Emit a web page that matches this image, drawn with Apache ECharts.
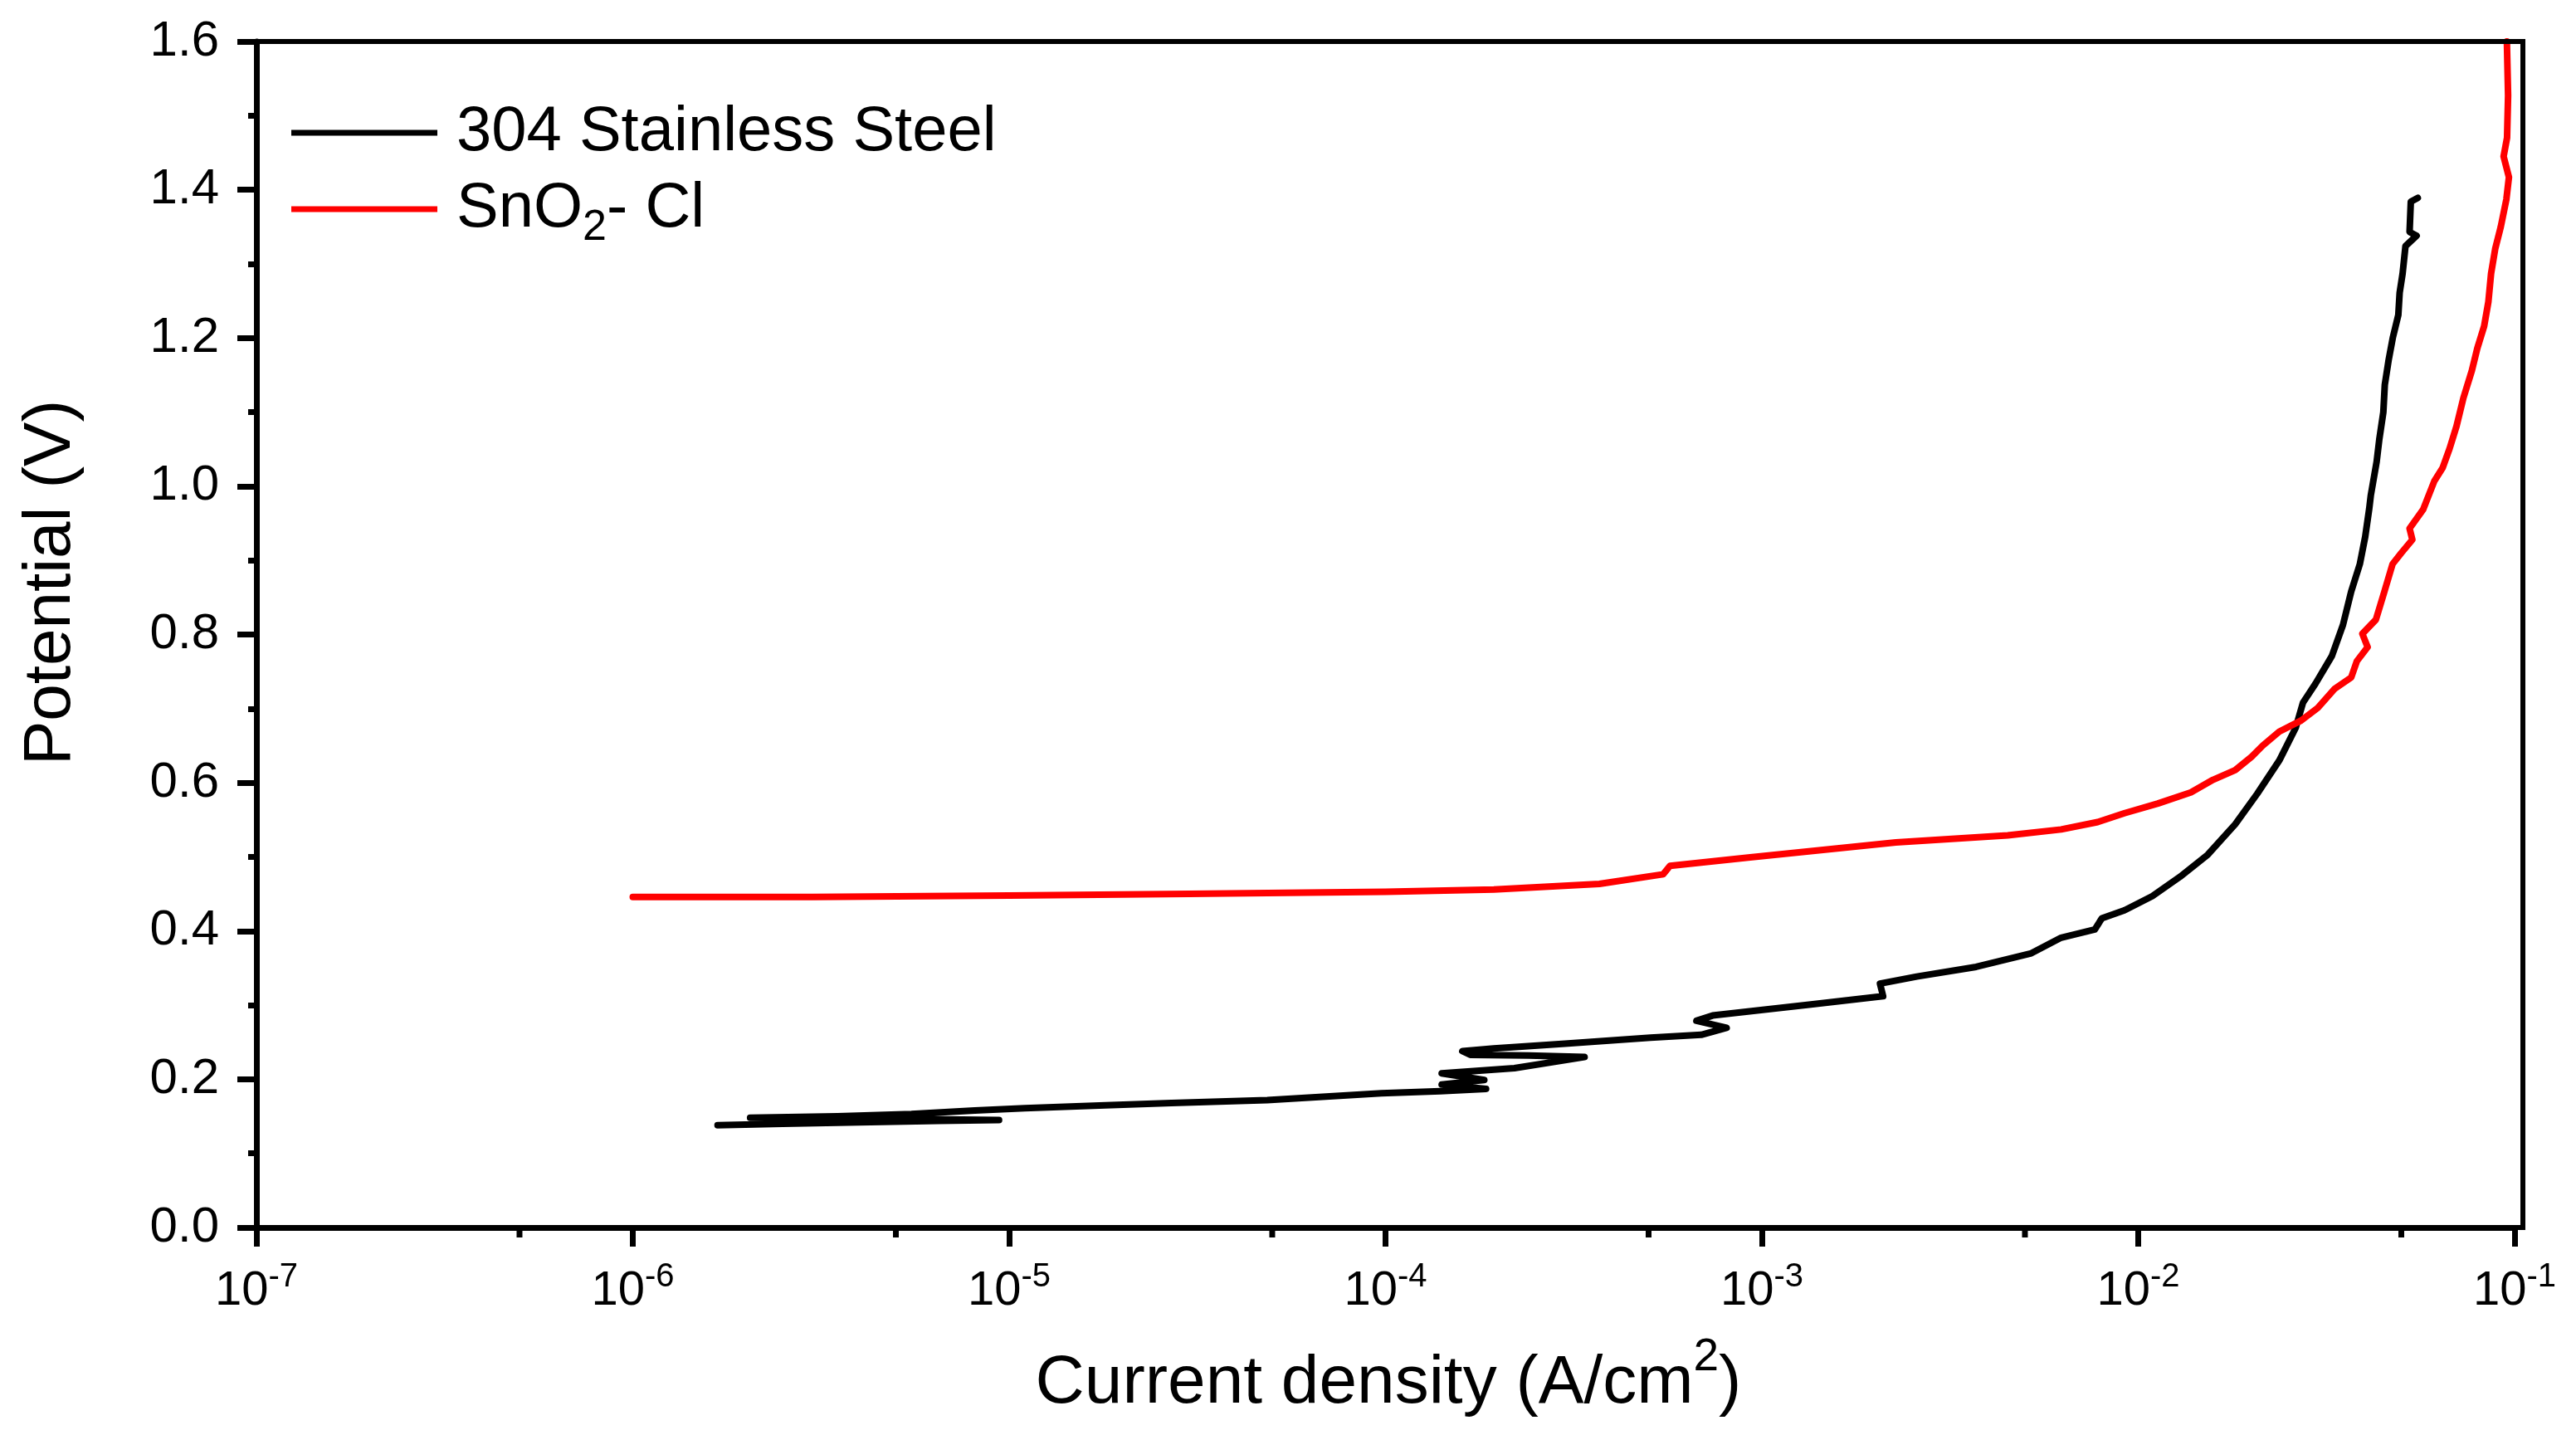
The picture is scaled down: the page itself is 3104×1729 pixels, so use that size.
<!DOCTYPE html>
<html><head><meta charset="utf-8">
<script src="https://cdn.jsdelivr.net/npm/echarts@6/dist/echarts.min.js"></script>
<style>html,body{margin:0;padding:0;background:#fff;}#chart{width:3104px;height:1729px;}</style>
</head><body><div id="chart"></div>
<script>
const FONT = '"Liberation Sans", Arial, Helvetica, sans-serif';
const seriesNames = ['304 Stainless Steel', 'SnO2- Cl'];
const xTitle = 'Current density (A/cm';
const yTitle = 'Potential (V)';

// 304 Stainless Steel (sweep order)
const ssCurrent = [1.68e-6, 2.5e-6, 4.0e-6, 6.5e-6, 9.4e-6, 6.0e-6, 3.0e-6, 2.05e-6, 3.5e-6, 5.5e-6,
  8.1e-6, 1.1e-5, 1.8e-5, 2.7e-5, 4.85e-5, 9.75e-5, 1.4e-4, 1.85e-4, 1.41e-4, 1.83e-4,
  1.41e-4, 2.2e-4, 3.38e-4, 2.4e-4, 1.68e-4, 1.6e-4, 1.94e-4, 3.0e-4, 5.06e-4, 6.9e-4,
  8.06e-4, 6.7e-4, 7.4e-4, 1.35e-3, 2.1e-3, 2.06e-3, 2.58e-3, 3.71e-3, 5.2e-3, 6.24e-3,
  7.67e-3, 8.0e-3, 9.2e-3, 1.09e-2, 1.29e-2, 1.53e-2, 1.81e-2, 2.07e-2, 2.37e-2, 2.62e-2,
  2.74e-2, 2.96e-2, 3.27e-2, 3.50e-2, 3.68e-2, 3.88e-2, 4.01e-2, 4.11e-2, 4.15e-2, 4.30e-2,
  4.37e-2, 4.48e-2, 4.52e-2, 4.63e-2, 4.75e-2, 4.91e-2, 4.95e-2, 5.04e-2, 5.13e-2, 5.49e-2,
  5.26e-2, 5.30e-2, 5.53e-2];
const ssPotential = [0.138, 0.140, 0.142, 0.144, 0.145, 0.146, 0.147, 0.148, 0.150, 0.153,
  0.158, 0.161, 0.165, 0.168, 0.172, 0.181, 0.184, 0.187, 0.193, 0.199,
  0.208, 0.215, 0.230, 0.232, 0.233, 0.238, 0.2415, 0.248, 0.256, 0.260,
  0.2695, 0.279, 0.286, 0.301, 0.312, 0.329, 0.3385, 0.3516, 0.370, 0.391,
  0.402, 0.417, 0.428, 0.447, 0.473, 0.503, 0.544, 0.585, 0.630, 0.674,
  0.708, 0.734, 0.771, 0.813, 0.858, 0.895, 0.932, 0.970, 0.988, 1.033,
  1.063, 1.100, 1.137, 1.171, 1.201, 1.231, 1.261, 1.287, 1.324, 1.338,
  1.343, 1.384, 1.389];

// SnO2- Cl
const snCurrent = [1.0e-6, 3e-6, 1e-5, 3e-5, 1e-4, 1.94e-4, 3.7e-4, 5.47e-4, 5.7e-4, 9.2e-4,
  2.27e-3, 4.5e-3, 6.24e-3, 7.8e-3, 9.2e-3, 1.128e-2, 1.38e-2, 1.58e-2, 1.81e-2, 2.00e-2, 2.14e-2, 2.37e-2,
  2.71e-2, 3.00e-2, 3.33e-2, 3.68e-2, 3.81e-2, 4.07e-2, 3.94e-2, 4.28e-2, 4.51e-2, 4.74e-2,
  5.00e-2, 5.35e-2, 5.26e-2, 5.72e-2, 6.12e-2, 6.44e-2, 6.72e-2, 7.01e-2, 7.31e-2, 7.70e-2,
  7.96e-2, 8.30e-2, 8.52e-2, 8.66e-2, 8.88e-2, 9.19e-2, 9.51e-2, 9.66e-2, 9.35e-2, 9.55e-2,
  9.61e-2, 9.54e-2];
const snPotential = [0.446, 0.446, 0.448, 0.450, 0.453, 0.456, 0.4636, 0.4766, 0.488, 0.499,
  0.5195, 0.529, 0.537, 0.547, 0.559, 0.572, 0.587, 0.604, 0.617, 0.635, 0.650, 0.669,
  0.684, 0.701, 0.727, 0.742, 0.764, 0.783, 0.801, 0.820, 0.858, 0.895,
  0.910, 0.928, 0.943, 0.969, 1.007, 1.025, 1.051, 1.081, 1.119, 1.156,
  1.186, 1.216, 1.249, 1.287, 1.320, 1.350, 1.387, 1.417, 1.445, 1.470,
  1.527, 1.600];

const xMin = 1e-7, xMax = 1e-1;
const yMin = 0, yMax = 1.6, yStep = 0.2;
const xMinorTicks = [5e-7, 5e-6, 5e-5, 5e-4, 5e-3, 5e-2];

const zip = (a, b) => a.map((v, i) => [v, b[i]]);

const chart = echarts.init(document.getElementById('chart'), null, {renderer: 'canvas'});
chart.setOption({
  animation: false,
  backgroundColor: '#fff',
  grid: {left: 309, right: 74, top: 50, bottom: 250, show: false, outerBoundsMode: 'none'},
  legend: {
    data: seriesNames,
    orient: 'vertical',
    left: 346, top: 117,
    itemWidth: 176, itemHeight: 7, itemGap: 16,
    icon: 'rect',
    textStyle: {fontFamily: FONT, fontSize: 76, color: '#000', padding: [0, 0, 0, 18],
      rich: {
        t: {fontFamily: FONT, fontSize: 76, color: '#000', lineHeight: 97},
        sub: {fontFamily: FONT, fontSize: 52, color: '#000', lineHeight: 42, verticalAlign: 'bottom'}
      }},
    formatter: function (name) {
      if (name === 'SnO2- Cl') return '{t|SnO}{sub|2}{t|- Cl}';
      return '{t|' + name + '}';
    }
  },
  xAxis: {
    type: 'log', logBase: 10, min: xMin, max: xMax,
    axisLine: {show: true, onZero: false, lineStyle: {color: '#000', width: 7}},
    axisTick: {show: true, inside: false, length: 23, lineStyle: {color: '#000', width: 7}},
    minorTick: {show: false},
    splitLine: {show: false},
    axisLabel: {
      margin: 40, color: '#000',
      formatter: function (v) {
        const e = Math.round(Math.log10(v));
        return '{b|10}{s|' + e + '}';
      },
      rich: {
        b: {fontFamily: FONT, fontSize: 58, color: '#000', lineHeight: 66, verticalAlign: 'bottom'},
        s: {fontFamily: FONT, fontSize: 40, color: '#000', lineHeight: 40, verticalAlign: 'top'}
      }
    }
  },
  yAxis: {
    type: 'value', min: yMin, max: yMax, interval: yStep,
    axisLine: {show: true, onZero: false, lineStyle: {color: '#000', width: 7}},
    axisTick: {show: true, inside: false, length: 23, lineStyle: {color: '#000', width: 7}},
    minorTick: {show: true, splitNumber: 2, length: 10, lineStyle: {color: '#000', width: 7}},
    splitLine: {show: false},
    axisLabel: {
      margin: 45, color: '#000', fontFamily: FONT, fontSize: 60,
      formatter: v => v.toFixed(1)
    }
  },
  graphic: [
    {type: 'rect', z: 10, silent: true, shape: {x: 309, y: 50, width: 2731, height: 1429},
      style: {fill: 'none', stroke: '#000', lineWidth: 6}},
    {type: 'text', x: 62, y: 702, rotation: Math.PI / 2,
      style: {text: yTitle, fontFamily: FONT, fontSize: 80, fill: '#000', align: 'center', verticalAlign: 'middle'}},
    {type: 'text', x: 1673, y: 1658,
      style: {text: '{a|' + xTitle + '}{s|2}{a|)}', fill: '#000', align: 'center', verticalAlign: 'middle',
        rich: {
          a: {fontFamily: FONT, fontSize: 82, fill: '#000', lineHeight: 100, verticalAlign: 'bottom'},
          s: {fontFamily: FONT, fontSize: 55, fill: '#000', lineHeight: 60, verticalAlign: 'top'}
        }}}
  ],
  series: [
    {name: seriesNames[0], type: 'line', data: zip(ssCurrent, ssPotential), showSymbol: false,
      lineStyle: {color: '#000', width: 8, join: 'round', cap: 'round'}, itemStyle: {color: '#000'}, z: 3},
    {name: seriesNames[1], type: 'line', data: zip(snCurrent, snPotential), showSymbol: false,
      lineStyle: {color: '#ff0000', width: 8, join: 'round', cap: 'round'}, itemStyle: {color: '#ff0000'}, z: 4},
    {name: 'minor', type: 'custom', silent: true, z: 5,
      data: xMinorTicks.map(v => [v, yMin]),
      renderItem: function (params, api) {
        const p = api.coord([api.value(0), api.value(1)]);
        return {type: 'line', shape: {x1: p[0], y1: p[1], x2: p[0], y2: p[1] + 12},
          style: {stroke: '#000', lineWidth: 7}};
      }}
  ]
});
</script></body></html>
